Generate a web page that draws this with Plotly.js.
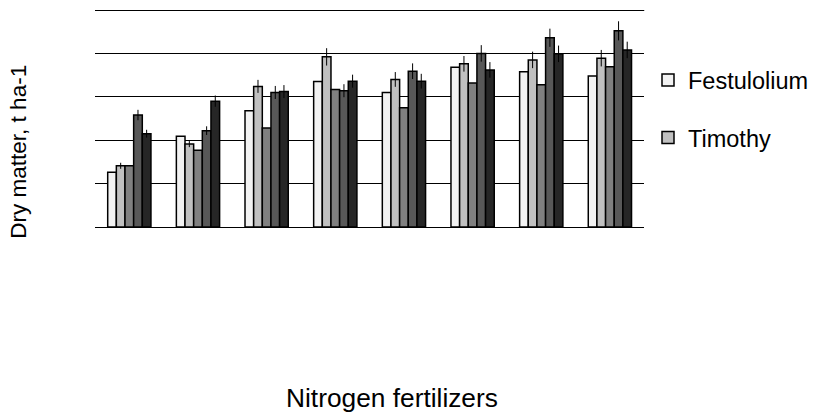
<!DOCTYPE html>
<html>
<head>
<meta charset="utf-8">
<script src="https://cdn.plot.ly/plotly-3.0.1.min.js"></script>
<style>html,body{margin:0;padding:0;background:#fff;}#chart{width:814px;height:412px;}</style>
</head>
<body>
<div id="chart"></div>
<script>
// Categories (nitrogen fertilizer treatments, unlabeled in the original)
const categories = ["N1", "N2", "N3", "N4", "N5", "N6", "N7", "N8"];

const seriesNames = ["Festulolium", "Timothy", "Series 3", "Series 4", "Series 5"];
const festulolium = [1.26, 2.09, 2.68, 3.35, 3.10, 3.68, 3.58, 3.48];
const timothy     = [1.41, 1.91, 3.24, 3.92, 3.40, 3.76, 3.85, 3.89];
const series3     = [1.41, 1.77, 2.28, 3.17, 2.75, 3.32, 3.28, 3.69];
const series4     = [2.58, 2.22, 3.10, 3.14, 3.59, 4.00, 4.36, 4.52];
const series5     = [2.15, 2.90, 3.12, 3.36, 3.36, 3.62, 3.99, 4.08];

// Error bar half-widths
const errFestulolium = [0, 0, 0, 0, 0, 0, 0, 0];
const errTimothy     = [0.07, 0.07, 0.15, 0.20, 0.17, 0.18, 0.19, 0.19];
const errSeries3     = [0, 0, 0, 0, 0, 0, 0, 0];
const errSeries4     = [0.12, 0.10, 0.15, 0.15, 0.18, 0.19, 0.21, 0.22];
const errSeries5     = [0.09, 0.13, 0.15, 0.15, 0.17, 0.18, 0.19, 0.19];

// Gridline levels
const gridLevels = [5];

const values = [festulolium, timothy, series3, series4, series5];
const errors = [errFestulolium, errTimothy, errSeries3, errSeries4, errSeries5];
const colors = ["#f2f2f2", "#c0c0c0", "#808080", "#585858", "#262626"];
const showLeg = [true, true, false, false, false];

const traces = values.map((v, i) => ({
  type: "bar",
  name: seriesNames[i],
  x: categories,
  y: v,
  showlegend: showLeg[i],
  legendgroup: "g" + i,
  marker: { color: colors[i], line: { color: "#000", width: 1.5 } },
  error_y: { type: "data", array: errors[i], visible: true, color: "#000", thickness: 1, width: 0 }
}));

const fontFam = "Liberation Sans, Arial, sans-serif";
const layout = {
  width: 814, height: 412,
  margin: { l: 95, r: 0, t: 10, b: 185 },
  paper_bgcolor: "#fff", plot_bgcolor: "#fff",
  barmode: "group",
  bargap: 0.37, bargroupgap: 0,
  font: { family: fontFam, size: 22, color: "#000" },
  showlegend: true,
  legend: {
    x: 0.7705, xanchor: "left", y: 0.778, yanchor: "top",
    font: { family: fontFam, size: 23.5, color: "#000" },
    tracegroupgap: 24, bgcolor: "rgba(0,0,0,0)"
  },
  xaxis: { domain: [0, 550 / 719], showticklabels: false, ticks: "", showgrid: false, zeroline: false, showline: false },
  yaxis: {
    range: [0, 5], dtick: 1, showticklabels: false, ticks: "",
    showgrid: true, gridcolor: "#000", gridwidth: 1,
    zeroline: true, zerolinecolor: "#000", zerolinewidth: 1, showline: false
  },
  shapes: gridLevels.map(g => ({
    type: "line", xref: "x domain", yref: "y", x0: 0, x1: 1, y0: g, y1: g,
    line: { color: "#000", width: 2 }, layer: "below"
  })),
  annotations: [
    { text: "Dry matter, t ha-1", xref: "paper", yref: "paper", x: -0.107, y: 0.348,
      xanchor: "center", yanchor: "middle",
      textangle: -90, showarrow: false, font: { family: fontFam, size: 22.5, color: "#000" } },
    { text: "Nitrogen fertilizers", xref: "paper", yref: "paper", x: 0.4138, y: -0.788,
      xanchor: "center", yanchor: "middle",
      showarrow: false, font: { family: fontFam, size: 26.3, color: "#000" } }
  ]
};

Plotly.newPlot("chart", traces, layout, { displayModeBar: false, staticPlot: true });
</script>
</body>
</html>
